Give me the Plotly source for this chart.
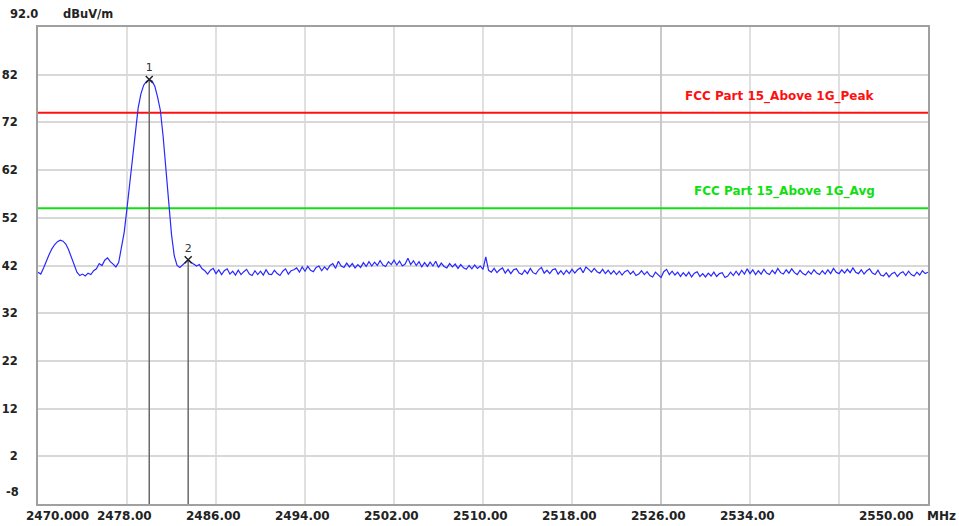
import plotly.graph_objects as go

# ---------------- data ----------------
f_start = 2470.0
f_step = 0.25
level = [
    40.6, 40.2, 41.5, 43.0,  44.3, 45.5, 46.4, 47.0,  47.3, 47.1, 46.5, 45.3,
    43.8, 42.2, 40.6, 39.9,  40.2, 39.8, 40.4, 40.1,  40.9, 41.3, 42.4, 42.0,
    43.1, 43.6, 42.8, 42.3,  41.7, 42.6, 45.5, 49.0,  54.0, 59.5, 65.0, 70.5,
    75.0, 78.0, 79.8, 80.6,  81.0, 80.7, 79.6, 77.3,  74.5, 69.0, 61.5, 54.5,
    48.5, 44.0, 42.0, 41.6,  42.1, 42.6, 43.2, 42.7,  42.3, 41.9, 42.2, 41.3,
    40.9, 40.2, 41.0, 41.4,  40.3, 41.1, 40.1, 40.9,  41.3, 40.2, 40.8, 40.0,
    41.0, 40.1, 40.7, 41.2,  40.2, 39.9, 40.9, 40.1,  40.8, 40.0, 41.1, 40.2,
    40.1, 41.0, 40.3, 39.9,  40.8, 41.3, 40.2, 40.9,  41.1, 41.5, 40.6, 41.7,
    40.8, 41.8, 41.0, 40.7,  41.6, 41.9, 40.9, 41.7,  41.1, 42.0, 42.4, 41.4,
    42.9, 41.9, 41.6, 42.5,  41.7, 42.4, 41.5, 42.2,  41.6, 42.6, 41.8, 42.8,
    41.9, 42.7, 42.0, 43.0,  42.1, 41.8, 42.8, 42.2,  43.1, 42.1, 42.9, 41.9,
    42.3, 43.5, 42.2, 43.0,  42.0, 42.8, 41.7, 42.6,  41.8, 42.7, 41.9, 42.9,
    41.6, 42.5, 41.8, 41.5,  42.4, 41.7, 42.3, 41.4,  42.2, 41.5, 41.2, 42.0,
    41.3, 42.1, 41.4, 41.9,  41.2, 43.8, 41.0, 40.6,  41.4, 40.5, 41.1, 41.5,
    40.4, 41.2, 40.3, 41.1,  41.3, 40.4, 40.1, 41.0,  40.3, 41.4, 40.5, 40.2,
    41.1, 41.6, 40.4, 41.0,  40.3, 41.1, 41.3, 40.2,  40.9, 40.1, 41.0, 40.3,
    41.2, 40.4, 41.1, 41.5,  40.5, 41.7, 41.2, 40.6,  41.4, 40.7, 40.4, 41.2,
    40.3, 41.0, 40.2, 40.9,  40.1, 40.8, 40.0, 40.7,  41.0, 40.2, 40.8, 39.9,
    40.2, 40.9, 40.1, 40.7,  39.9, 39.6, 40.6, 40.0,  39.5, 40.7, 41.2, 40.1,
    40.8, 40.0, 40.6, 39.7,  40.5, 39.8, 40.6, 39.6,  40.4, 40.7, 39.7, 40.3,
    39.6, 40.4, 39.8, 40.6,  39.7, 40.3, 40.5, 39.5,  39.8, 40.6, 39.9, 40.8,
    40.0, 41.0, 40.2, 41.3,  40.3, 41.1, 40.1, 40.9,  40.2, 41.2, 40.4, 40.1,
    41.0, 40.3, 41.4, 40.5,  40.2, 41.1, 40.4, 41.3,  40.5, 40.1, 41.0, 40.3,
    40.0, 40.8, 40.2, 41.1,  40.4, 40.1, 40.9, 40.2,  41.1, 40.3, 41.4, 40.6,
    40.3, 41.1, 40.4, 41.2,  40.5, 41.5, 40.6, 40.3,  41.1, 40.2, 40.9, 41.3,
    40.4, 40.1, 41.0, 40.0,  39.8, 40.5, 39.6, 40.3,  40.6, 39.7, 40.4, 40.7,
    39.9, 40.8, 40.1, 39.8,  40.6, 40.0, 40.9, 40.3,  40.6,
]
freq = [f_start + f_step * i for i in range(len(level))]

marker_ids = ["1", "2"]
marker_freq = [2480.0, 2483.5]
marker_level = [81.0, 43.2]

limit_names = ["FCC Part 15_Above 1G_Peak", "FCC Part 15_Above 1G_Avg"]
limit_values = [74.0, 54.0]
limit_colors = ["#ff1010", "#10e010"]

y_ticks = [82, 72, 62, 52, 42, 32, 22, 12, 2]
y_bottom_label = "-8"
y_top_label = "92.0"
y_unit = "dBuV/m"

x_grid = [2478, 2486, 2494, 2502, 2510, 2518, 2526, 2534, 2542]
x_center_grid = [2526]
x_label_vals = [2470, 2478, 2486, 2494, 2502, 2510, 2518, 2526, 2534, 2550]
x_label_text = ["2470.000", "2478.00", "2486.00", "2494.00", "2502.00",
                "2510.00", "2518.00", "2526.00", "2534.00", "2550.00"]
x_unit = "MHz"

X_MIN, X_MAX = 2470, 2550
Y_MIN, Y_MAX = -8, 92

# ---------------- figure ----------------
TXT = dict(family="DejaVu Sans", size=12, color="#222222", weight="bold")
YTXT = dict(family="DejaVu Sans", size=11.5, color="#222222", weight="bold")

fig = go.Figure()

# darker centre grid line
for g in x_center_grid:
    fig.add_trace(go.Scatter(x=[g, g], y=[Y_MIN, Y_MAX], mode="lines",
                             line=dict(color="#c2c2c2", width=1.5),
                             hoverinfo="skip", showlegend=False))

# limit lines
for name, val, col in zip(limit_names, limit_values, limit_colors):
    fig.add_trace(go.Scatter(x=[X_MIN, X_MAX], y=[val, val], mode="lines",
                             line=dict(color=col, width=2), hoverinfo="skip",
                             showlegend=False))
    fig.add_annotation(x=2545.4, y=val, xref="x", yref="y", text=name,
                       showarrow=False, xanchor="right", yanchor="bottom",
                       yshift=7, font=dict(family="DejaVu Sans", size=12,
                                           color=col, weight="bold"))

# marker drop lines
mx, my = [], []
for f, l in zip(marker_freq, marker_level):
    mx += [f, f, None]
    my += [l, Y_MIN, None]
fig.add_trace(go.Scatter(x=mx, y=my, mode="lines",
                         line=dict(color="#6a6a6a", width=1.5),
                         hoverinfo="skip", showlegend=False))

# spectrum trace
fig.add_trace(go.Scatter(x=freq, y=level, mode="lines",
                         line=dict(color="rgb(40,40,255)", width=1.2),
                         showlegend=False, name="Level"))

# marker symbols + ids
fig.add_trace(go.Scatter(x=marker_freq, y=marker_level, mode="markers+text",
                         marker=dict(symbol="x-thin", size=7,
                                     line=dict(color="#222222", width=1.5)),
                         text=marker_ids, textposition="top center",
                         textfont=dict(family="DejaVu Sans", size=11,
                                       color="#333333"),
                         showlegend=False, hoverinfo="skip"))

# x tick labels
for v, t in zip(x_label_vals, x_label_text):
    if v == X_MIN:
        anchor, shift = "left", -14
    elif v == X_MAX:
        anchor, shift = "right", -12
    else:
        anchor, shift = "center", -3
    fig.add_annotation(x=v, y=0, xref="x", yref="paper", text=t,
                       showarrow=False, xanchor=anchor, yanchor="top",
                       xshift=shift, yshift=-3, font=TXT)
fig.add_annotation(x=1, y=0, xref="paper", yref="paper", text=x_unit,
                   showarrow=False, xanchor="left", yanchor="top",
                   xshift=-3, yshift=-3, font=TXT)

# y extra labels
fig.add_annotation(x=0, y=Y_MIN, xref="paper", yref="y", text=y_bottom_label,
                   showarrow=False, xanchor="right", yanchor="middle",
                   xshift=-17, yshift=12, font=YTXT)
fig.add_annotation(x=0, y=1, xref="paper", yref="paper", text=y_top_label,
                   showarrow=False, xanchor="right", yanchor="middle",
                   xshift=2, yshift=13, font=YTXT)
fig.add_annotation(x=0, y=1, xref="paper", yref="paper", text=y_unit,
                   showarrow=False, xanchor="left", yanchor="middle",
                   xshift=23, yshift=13, font=YTXT)

fig.update_layout(
    width=959, height=526,
    margin=dict(l=38, r=31, t=27, b=22, autoexpand=False),
    paper_bgcolor="white", plot_bgcolor="white",
    showlegend=False,
    xaxis=dict(range=[X_MIN, X_MAX], tickvals=x_grid, showticklabels=False,
               showgrid=True, gridcolor="#e0e0e0", gridwidth=1.5,
               zeroline=False, showline=True, linecolor="#a0a0a0",
               linewidth=2, mirror=True, ticks="", automargin=False),
    yaxis=dict(range=[Y_MIN, Y_MAX], tickvals=y_ticks,
               ticktext=[str(v) for v in y_ticks], tickfont=YTXT,
               showgrid=True, gridcolor="#d8d8d8", gridwidth=1.5,
               zeroline=False, showline=True, linecolor="#a0a0a0",
               linewidth=2, mirror=True, ticks="", ticklabelstandoff=16,
               automargin=False),
)

fig.write_html("out.html", config={"displayModeBar": False},
               post_script="document.body.style.margin='0';"
                           "document.body.style.overflow='hidden';")
